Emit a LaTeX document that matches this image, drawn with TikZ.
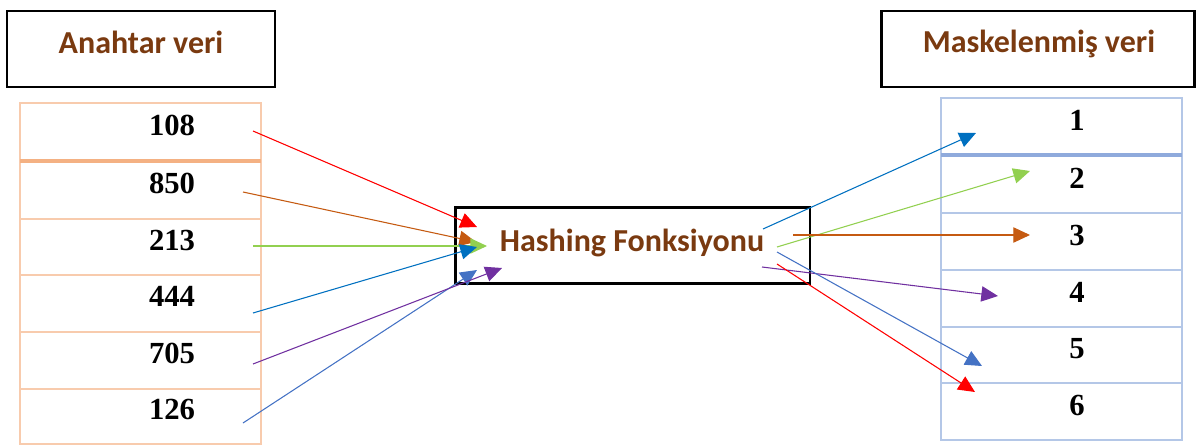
\documentclass[tikz,border=0pt]{standalone}
\usepackage{fontspec}
\setmainfont{Liberation Serif}
\newfontfamily\hdrfont{Carlito}
\usetikzlibrary{arrows.meta}
\definecolor{lorange}{HTML}{F8CBAD}
\definecolor{dorange}{HTML}{F4B183}
\definecolor{lbluec}{HTML}{B4C7E7}
\definecolor{dbluec}{HTML}{8FAADC}
\definecolor{browntxt}{HTML}{7A3A10}
\definecolor{cred}{HTML}{FF0000}
\definecolor{corange}{HTML}{C55A11}
\definecolor{cgreen}{HTML}{92D050}
\definecolor{cblue}{HTML}{0070C0}
\definecolor{cpurple}{HTML}{7030A0}
\definecolor{cmblue}{HTML}{4472C4}
\begin{document}
\begin{tikzpicture}[x=0.75pt,y=-0.75pt,
  hdrbox/.style={draw=black,line width=2pt,inner sep=0pt},
  hdrtext/.style={text=browntxt,font=\hdrfont\bfseries\fontsize{24}{28}\selectfont,inner sep=0pt,anchor=base},
  numtext/.style={text=black,font=\bfseries\fontsize{23}{27}\selectfont,inner sep=0pt,anchor=base},
  lcell/.style={draw=lorange,line width=1.5pt},
  rcell/.style={draw=lbluec,line width=1.5pt},
  conn/.style={line width=0.8pt,-{Triangle[length=12.5pt,width=11.5pt]}}]
\useasboundingbox (0,0) rectangle (1197,446);

% headers
\node[hdrbox,minimum width=201pt,minimum height=57pt] (lhdr) at (141,49) {};
\node[hdrtext] (lhdrt) at (141,53) {Anahtar veri};
\node[hdrbox,minimum width=235pt,minimum height=57pt] (rhdr) at (1038,49) {};
\node[hdrtext] (rhdrt) at (1039,52) {Maskelenmiş veri};

% left table
\draw[lcell] (20,103) rectangle (261,444);
\foreach \yy in {219,275,332,389} \draw[lcell] (20,\yy) -- (261,\yy);
\draw[draw=dorange,line width=2.5pt] (20,161) -- (261,161);
\node[numtext] (n108) at (172,135) {108};
\node[numtext] (n850) at (172,193) {850};
\node[numtext] (n213) at (172,250) {213};
\node[numtext] (n444) at (172,306) {444};
\node[numtext] (n705) at (172,363) {705};
\node[numtext] (n126) at (172,419) {126};

% right table
\draw[rcell] (941,98) rectangle (1182,440);
\foreach \yy in {213,270,327,383} \draw[rcell] (941,\yy) -- (1182,\yy);
\draw[draw=dbluec,line width=2.5pt] (941,155) -- (1182,155);
\node[numtext] (r1) at (1077,130) {1};
\node[numtext] (r2) at (1077,188) {2};
\node[numtext] (r3) at (1077,245) {3};
\node[numtext] (r4) at (1077,302) {4};
\node[numtext] (r5) at (1077,358) {5};
\node[numtext] (r6) at (1077,415) {6};

% hash box
\node[hdrbox,minimum width=266pt,minimum height=57pt] (hash) at (632.5,245.5) {};
\node[hdrtext] (hasht) at (632,251) {Hashing Fonksiyonu};

% coordinates for connectors
\coordinate (a1) at (253,131); \coordinate (b1) at (477,227);
\coordinate (a2) at (243,192); \coordinate (b2) at (476,242);
\coordinate (a3) at (253,246); \coordinate (b3) at (487,246);
\coordinate (a4) at (253,313); \coordinate (b4) at (477,247);
\coordinate (a5) at (253,364); \coordinate (b5) at (502,268);
\coordinate (a6) at (243,423); \coordinate (b6) at (477,270);

\coordinate (c1) at (763,229); \coordinate (d1) at (976,133);
\coordinate (c2) at (777,247); \coordinate (d2) at (1030,171);
\coordinate (c3) at (793,235); \coordinate (d3) at (1030,235);
\coordinate (c4) at (762,267); \coordinate (d4) at (998,296);
\coordinate (c5) at (777,252); \coordinate (d5) at (982,366);
\coordinate (c6) at (777,264); \coordinate (d6) at (975,392);

\draw[conn,cred] (a1) -- (b1);
\draw[conn,corange] (a2) -- (b2);
\draw[conn,cgreen] (a3) -- (b3);
\draw[conn,cblue] (a4) -- (b4);
\draw[conn,cmblue] (a6) -- (b6);
\draw[conn,cpurple] (a5) -- (b5);

\draw[conn,cblue] (c1) -- (d1);
\draw[conn,cgreen] (c2) -- (d2);
\draw[conn,corange] (c3) -- (d3);
\draw[conn,cpurple] (c4) -- (d4);
\draw[conn,cmblue] (c5) -- (d5);
\draw[conn,cred] (c6) -- (d6);
\end{tikzpicture}
\end{document}
